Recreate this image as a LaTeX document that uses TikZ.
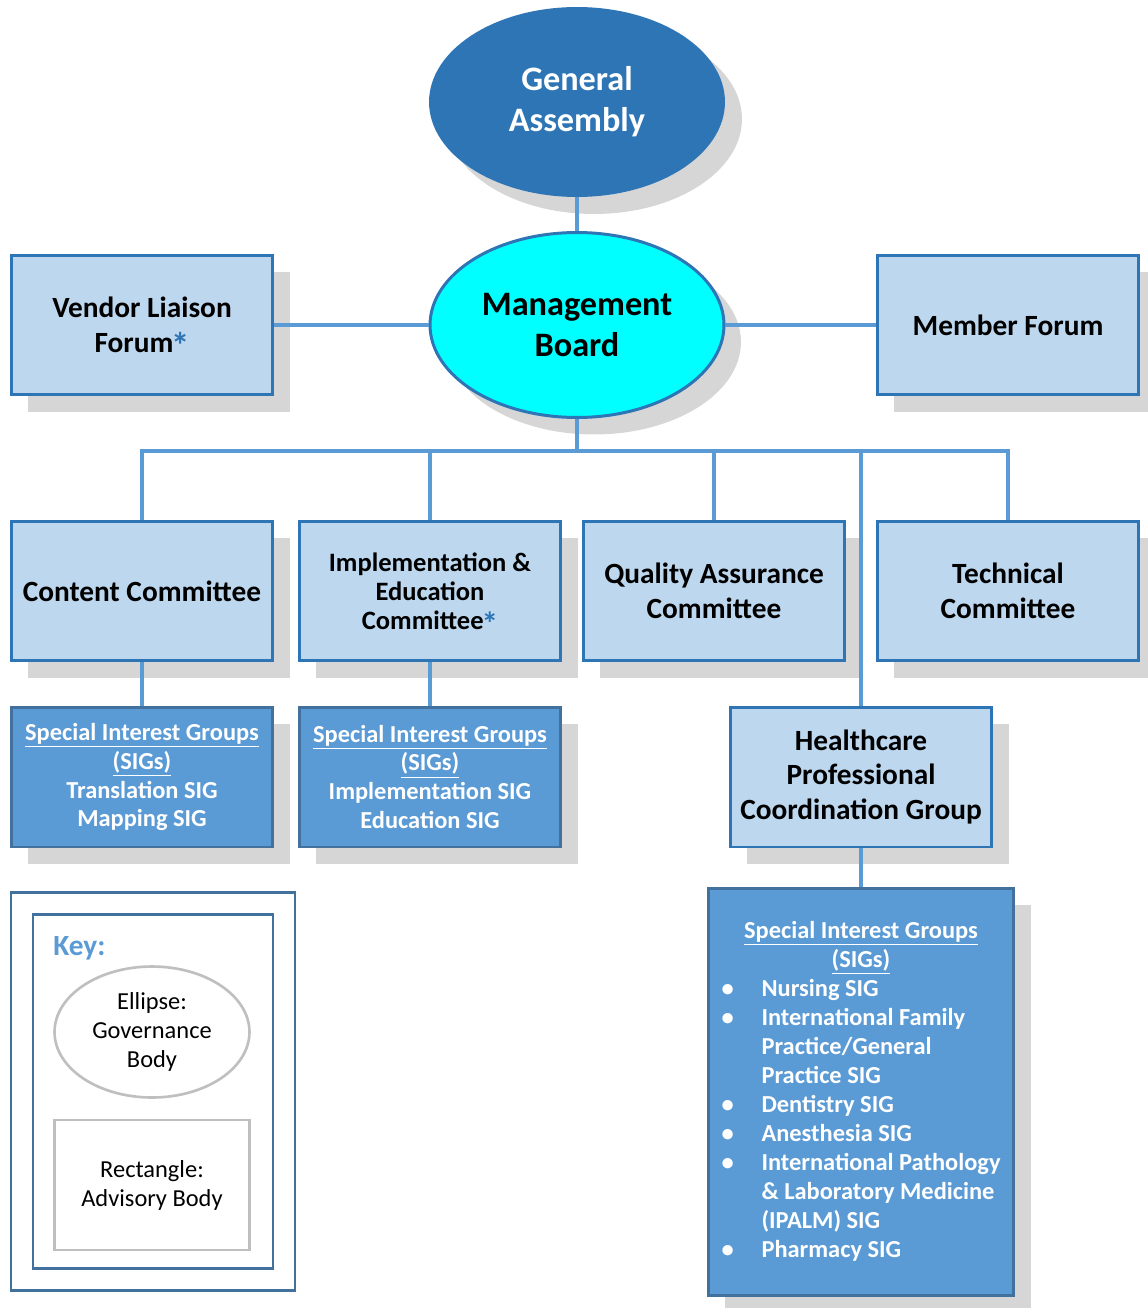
\documentclass[tikz,border=0pt]{standalone}
\usepackage{fontspec}
\setmainfont{Carlito}
\usepackage{tikz}
\usetikzlibrary{shapes.geometric,shadows}

\definecolor{gablue}{HTML}{2E75B6}
\definecolor{mbcyan}{HTML}{00FFFF}
\definecolor{boxfill}{HTML}{BDD7EE}
\definecolor{sigfill}{HTML}{5B9BD5}
\definecolor{sigline}{HTML}{41719C}
\definecolor{linkblue}{HTML}{5B9BD5}
\definecolor{shadowgray}{HTML}{D6D6D6}
\definecolor{keygray}{HTML}{BFBFBF}

\newcommand{\orgbig}{\fontsize{19.5pt}{23.2pt}\selectfont}
\newcommand{\orgmid}{\fontsize{16.7pt}{19.7pt}\selectfont}
\newcommand{\orgiec}{\fontsize{15.1pt}{16.5pt}\selectfont}
\newcommand{\orgsmall}{\fontsize{13.9pt}{16.5pt}\selectfont}
\newcommand{\bluestar}{\kern-0.08em\smash{\raisebox{-0.22em}{\textcolor{gablue}{\bfseries\fontsize{1.25em}{1em}\selectfont*}}}}

\begin{document}
\begin{tikzpicture}[x=0.02cm,y=-0.02cm,
    shade/.style={drop shadow={shadow xshift=0.34cm,shadow yshift=-0.34cm,fill=shadowgray,opacity=1}},
    govbody/.style={ellipse,inner sep=0pt,align=center,font=\orgbig\bfseries,shade},
    advbox/.style={rectangle,draw=gablue,line width=1.7pt,fill=boxfill,minimum width=5.24cm,
        minimum height=2.8cm,align=center,font=\orgmid\bfseries,shade},
    sigbox/.style={rectangle,draw=sigline,line width=1.7pt,fill=sigfill,text=white,
        minimum width=5.24cm,minimum height=2.8cm,align=center,font=\orgsmall\bfseries,shade},
    link/.style={draw=linkblue,line width=1.8pt},
    keyframe/.style={draw=sigline,line width=1.7pt},
    keyitem/.style={draw=keygray,line width=1.5pt,fill=white,align=center,font=\orgsmall,inner sep=0pt}]
\useasboundingbox (0,0) rectangle (1147,1308);

% Governance bodies
\node[govbody,fill=gablue,text=white,minimum width=5.92cm,minimum height=3.8cm] (ga) at (577,102) {General\\Assembly};
\node[govbody,fill=mbcyan,draw=gablue,line width=1.7pt,minimum width=5.88cm,minimum height=3.7cm] (mb) at (577,325) {Management\\Board};

% Forums
\node[advbox] (vlf) at (142,325) {Vendor Liaison\\Forum\bluestar};
\node[advbox] (mf) at (1008,325) {Member Forum};

% Committees
\node[advbox] (cc) at (142,591) {Content Committee};
\node[advbox,font=\orgiec\bfseries] (iec) at (430,591) {Implementation \&\\Education\\Committee\bluestar};
\node[advbox] (qa) at (714,591) {Quality Assurance\\Committee};
\node[advbox] (tc) at (1008,591) {Technical\\Committee};

% Special interest groups
\node[sigbox] (sigcc) at (142,777) {\underline{Special Interest Groups}\\\underline{(SIGs)}\\Translation SIG\\Mapping SIG};
\node[sigbox] (sigiec) at (430,777) {\underline{Special Interest Groups}\\\underline{(SIGs)}\\Implementation SIG\\Education SIG};
\node[advbox,font=\orgmid\bfseries] (hpcg) at (861,777) {Healthcare\\Professional\\Coordination Group};
\node[sigbox,minimum width=6.12cm,minimum height=8.16cm] (sighp) at (861,1092) {%
  \begin{tabular}{@{}p{0.8cm}@{}l@{}}
  \multicolumn{2}{c}{\underline{Special Interest Groups}}\\
  \multicolumn{2}{c}{\underline{(SIGs)}}\\
  \textbullet & Nursing SIG\\
  \textbullet & International Family\\
              & Practice/General\\
              & Practice SIG\\
  \textbullet & Dentistry SIG\\
  \textbullet & Anesthesia SIG\\
  \textbullet & International Pathology\\
              & \& Laboratory Medicine\\
              & (IPALM) SIG\\
  \textbullet & Pharmacy SIG
  \end{tabular}};

% Connectors
\coordinate (busL) at (142,451);
\draw[link] (ga) -- (mb);
\draw[link] (vlf.east) -- (mb.west);
\draw[link] (mb.east) -- (mf.west);
\draw[link] (mb.south) -- (mb.south |- busL);
\draw[link] (cc.north) -- (cc.north |- busL) -- (tc.north |- busL) -- (tc.north);
\foreach \n in {iec,qa,hpcg}
    \draw[link] (\n.north |- busL) -- (\n.north);
\draw[link] (cc.south) -- (sigcc.north);
\draw[link] (iec.south) -- (sigiec.north);
\draw[link] (hpcg.south) -- (sighp.north);

% Key
\draw[keyframe] (11,892) rectangle (295,1290);
\draw[keyframe] (33,914) rectangle (273,1268);
\node[anchor=west,text=sigfill,font=\orgmid\bfseries,inner sep=0pt] (keylbl) at (53,948) {Key:};
\node[keyitem,ellipse,minimum width=3.9cm,minimum height=2.62cm] (keyell) at (152,1032) {Ellipse:\\Governance\\Body};
\node[keyitem,rectangle,minimum width=3.9cm,minimum height=2.6cm] (keyrect) at (152,1185) {Rectangle:\\Advisory Body};
\end{tikzpicture}
\end{document}
